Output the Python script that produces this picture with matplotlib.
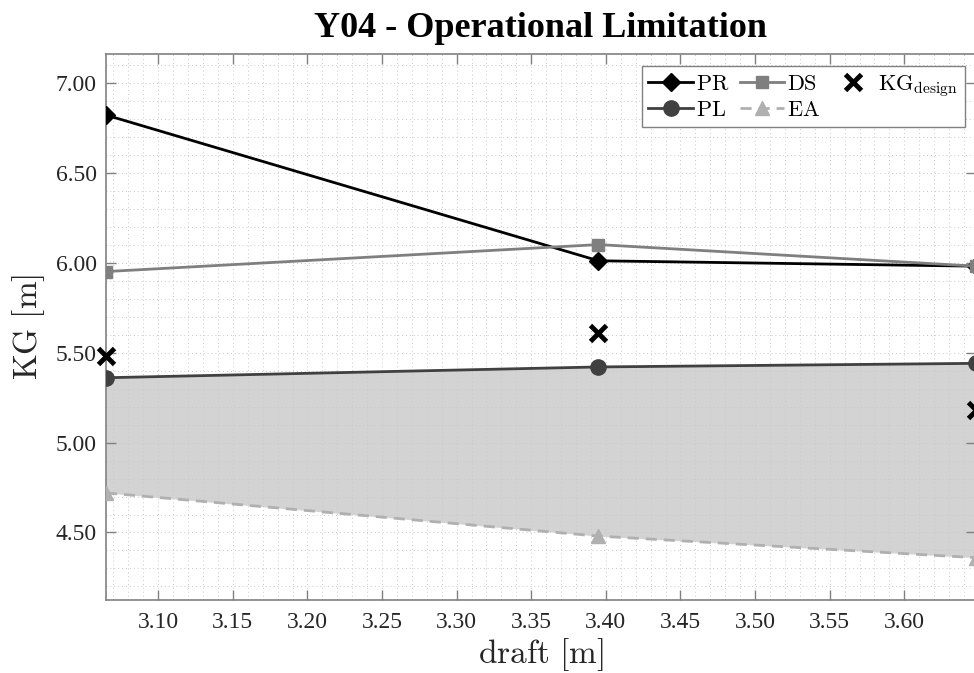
import numpy as np
import matplotlib
matplotlib.use('Agg')
import matplotlib.pyplot as plt
from matplotlib.ticker import MultipleLocator, FormatStrFormatter

plt.rcParams['font.family'] = 'Liberation Serif'
plt.rcParams['mathtext.fontset'] = 'cm'

# loading conditions
draft = [3.065, 3.395, 3.648]

# KG limits per criterion
kg_pr = [6.82, 6.01, 5.98]
kg_ds = [5.95, 6.10, 5.98]
kg_pl = [5.36, 5.42, 5.44]
kg_ea = [4.72, 4.48, 4.36]
kg_design = [5.48, 5.61, 5.18]

title = 'Y04 - Operational Limitation'

fig = plt.figure(figsize=(9.74, 6.73), dpi=100)
ax = fig.add_axes([0.1088, 0.1085, 0.8932, 0.8115])

# operational window between PL and EA
ax.fill_between(draft, kg_ea, kg_pl, color='#d3d3d3', zorder=0.5, lw=0)

ax.plot(draft, kg_pr, '-D', color='black', lw=2.0, ms=9, label=r'$\mathrm{PR}$', zorder=3)
ax.plot(draft, kg_pl, '-o', color='#404040', lw=2.0, ms=11, label=r'$\mathrm{PL}$', zorder=3)
ax.plot(draft, kg_ds, '-s', color='#7f7f7f', lw=2.0, ms=9, label=r'$\mathrm{DS}$', zorder=3)
ax.plot(draft, kg_ea, '^', color='#b0b0b0', ls=(0, (4, 2.5)), lw=2.0, ms=10,
        label=r'$\mathrm{EA}$', zorder=3)
ax.plot(draft, kg_design, 'x', color='black', ms=11, mew=3.5,
        label=r'$\mathrm{KG}_{\mathrm{design}}$', zorder=4, clip_on=False)

ax.set_xlim(3.065, 3.648)
ax.set_ylim(4.125, 7.16)

ax.xaxis.set_major_locator(MultipleLocator(0.05))
ax.xaxis.set_minor_locator(MultipleLocator(0.01))
ax.yaxis.set_major_locator(MultipleLocator(0.5))
ax.yaxis.set_minor_locator(MultipleLocator(0.1))
ax.xaxis.set_major_formatter(FormatStrFormatter('%.2f'))
ax.yaxis.set_major_formatter(FormatStrFormatter('%.2f'))

ax.grid(which='both', linestyle=(0, (1, 3)), color='#c8c8c8', lw=0.7, zorder=1)
ax.tick_params(which='major', direction='in', length=7, width=1, color='#808080',
               top=True, right=True, labelsize=17, labelcolor='#262626')
ax.tick_params(axis='y', pad=6.5)
ax.tick_params(axis='x', pad=9)
ax.tick_params(which='minor', length=0)
for s in ax.spines.values():
    s.set_color('#808080')
    s.set_linewidth(1.2)

ax.set_xlabel(r'$\mathrm{draft\ [m]}$', fontsize=24, color='#262626', labelpad=2)
ax.set_ylabel(r'$\mathrm{KG\ [m]}$', fontsize=24, color='#262626', labelpad=6)
fig.text(0.555, 0.958, title, ha='center', va='center', fontsize=26, fontweight='bold')

leg = ax.legend(ncol=3, loc='upper right', bbox_to_anchor=(0.987, 0.978),
                fontsize=16, frameon=True, fancybox=False, framealpha=1,
                edgecolor='#808080', handlelength=2.0, columnspacing=0.45,
                handletextpad=0.15, borderpad=0.3, labelspacing=0.25,
                borderaxespad=0)
leg.get_frame().set_linewidth(1.0)

fig.savefig('out.png', dpi=100)
